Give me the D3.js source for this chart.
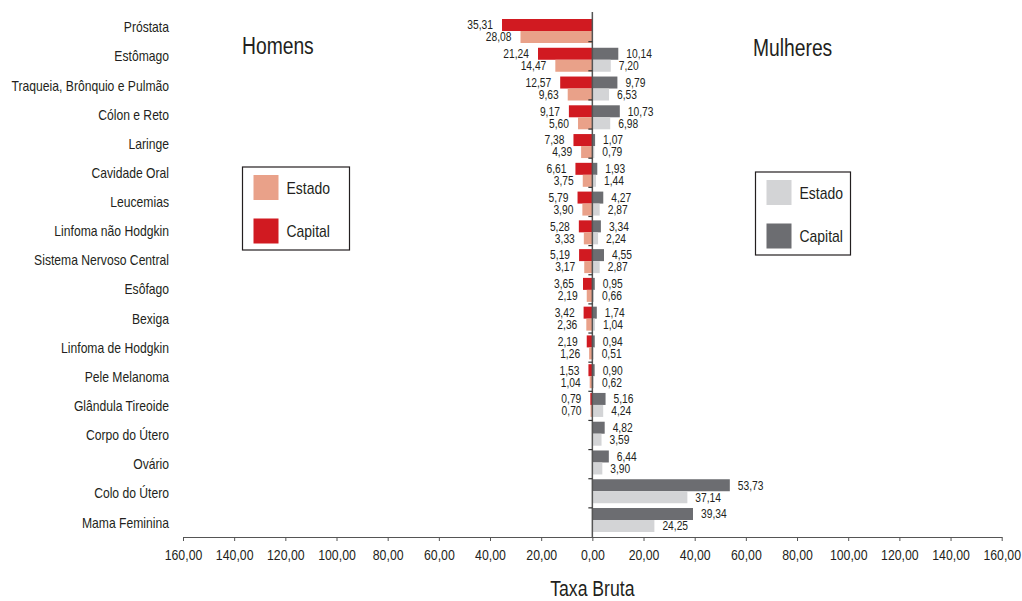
<!DOCTYPE html>
<html>
<head>
<meta charset="utf-8">
<script src="https://cdn.jsdelivr.net/npm/d3@7"></script>
<style>
  body { margin: 0; background: #fff; }
  text { font-family: "Liberation Sans", Arial, sans-serif; fill: #231f20; }
</style>
</head>
<body>
<svg id="chart" width="1022" height="601"></svg>
<script>
const categories = [
  'Próstata', 'Estômago', 'Traqueia, Brônquio e Pulmão', 'Cólon e Reto', 'Laringe',
  'Cavidade Oral', 'Leucemias', 'Linfoma não Hodgkin', 'Sistema Nervoso Central',
  'Esôfago', 'Bexiga', 'Linfoma de Hodgkin', 'Pele Melanoma', 'Glândula Tireoide',
  'Corpo do Útero', 'Ovário', 'Colo do Útero', 'Mama Feminina'
]
const homensCapital = [35.31, 21.24, 12.57, 9.17, 7.38, 6.61, 5.79, 5.28, 5.19, 3.65, 3.42, 2.19, 1.53, 0.79, null, null, null, null]
const homensEstado = [28.08, 14.47, 9.63, 5.60, 4.39, 3.75, 3.90, 3.33, 3.17, 2.19, 2.36, 1.26, 1.04, 0.70, null, null, null, null]
const mulheresCapital = [null, 10.14, 9.79, 10.73, 1.07, 1.93, 4.27, 3.34, 4.55, 0.95, 1.74, 0.94, 0.90, 5.16, 4.82, 6.44, 53.73, 39.34]
const mulheresEstado = [null, 7.20, 6.53, 6.98, 0.79, 1.44, 2.87, 2.24, 2.87, 0.66, 1.04, 0.51, 0.62, 4.24, 3.59, 3.90, 37.14, 24.25]
const xTicks = [-160, -140, -120, -100, -80, -60, -40, -20, 0, 20, 40, 60, 80, 100, 120, 140, 160]

const colors = {
  homensEstado: '#e9a189',
  homensCapital: '#d11a21',
  mulheresEstado: '#d3d4d6',
  mulheresCapital: '#6c6d71'
}

const ptBR = d3.formatLocale({ decimal: ',', thousands: '.', grouping: [3], currency: ['R$', ''] })
const fmt = ptBR.format('.2f')

const svg = d3.select('#chart')

const x = d3.scaleLinear().domain([-160, 160]).range([183, 1001.7])

// rows for labels / ticks
const y = d3.scaleBand().domain(categories).range([12.5, 537])
// bar groups sit a little tighter than the rows
const yBar = d3.scaleBand().domain(categories).range([19, 532]).paddingInner(0.166)
const barH = yBar.bandwidth() / 2

const rows = categories.map((c, i) => ({
  cat: c,
  hc: homensCapital[i],
  he: homensEstado[i],
  mc: mulheresCapital[i],
  me: mulheresEstado[i]
}))

// bars
const series = [
  { key: 'hc', color: colors.homensCapital, side: -1, slot: 0 },
  { key: 'he', color: colors.homensEstado, side: -1, slot: 1 },
  { key: 'mc', color: colors.mulheresCapital, side: 1, slot: 0 },
  { key: 'me', color: colors.mulheresEstado, side: 1, slot: 1 }
]

series.forEach(s => {
  const data = rows.filter(d => d[s.key] != null)

  svg.append('g')
    .selectAll('rect')
    .data(data)
    .join('rect')
    .attr('x', d => s.side < 0 ? x(-d[s.key]) : x(0))
    .attr('y', d => yBar(d.cat) + s.slot * barH)
    .attr('width', d => Math.abs(x(d[s.key]) - x(0)))
    .attr('height', barH)
    .style('fill', s.color)

  svg.append('g')
    .selectAll('text')
    .data(data)
    .join('text')
    .attr('x', d => s.side < 0 ? x(-d[s.key]) - 9 : x(d[s.key]) + 8)
    .attr('y', d => yBar(d.cat) + s.slot * barH + barH / 2)
    .attr('dy', '0.35em')
    .attr('text-anchor', s.side < 0 ? 'end' : 'start')
    .style('font-size', '12.5px')
    .text(d => fmt(d[s.key]))
})

// vertical axis at zero
const yAxis = svg.append('g')
yAxis.append('line')
  .attr('x1', x(0)).attr('x2', x(0))
  .attr('y1', 12).attr('y2', 537)
  .style('stroke', '#555').style('stroke-width', 1.5)
yAxis.selectAll('line.tick')
  .data(categories.slice(1))
  .join('line')
  .attr('class', 'tick')
  .attr('x1', x(0) - 4).attr('x2', x(0))
  .attr('y1', d => y(d)).attr('y2', d => y(d))
  .style('stroke', '#333').style('stroke-width', 1.2)

// category labels
svg.append('g')
  .selectAll('text')
  .data(categories)
  .join('text')
  .attr('x', 169)
  .attr('y', d => y(d) + y.bandwidth() / 2)
  .attr('dy', '0.35em')
  .attr('text-anchor', 'end')
  .style('font-size', '14.8px')
  .text(d => d)

// x axis
const xAxis = svg.append('g')
  .attr('transform', 'translate(0,537)')
  .call(d3.axisBottom(x).tickValues(xTicks).tickSize(4).tickSizeOuter(0).tickFormat(d => fmt(Math.abs(d))))
xAxis.select('.domain').style('stroke', '#555').style('stroke-width', 1.2)
xAxis.selectAll('.tick line').style('stroke', '#555')
xAxis.selectAll('.tick text')
  .attr('y', 12)
  .attr('font-family', null)
  .attr('font-size', null)
  .style('font-size', '15px')
  .style('fill', '#231f20')

svg.append('text')
  .attr('x', x(0))
  .attr('y', 596)
  .attr('text-anchor', 'middle')
  .style('font-size', '21.5px')
  .text('Taxa Bruta')

// titles
svg.append('text').attr('x', 242).attr('y', 54).style('font-size', '23.5px').text('Homens')
svg.append('text').attr('x', 753).attr('y', 56).style('font-size', '23.5px').text('Mulheres')

// legends
function legend (x0, y0, w, h, items) {
  const g = svg.append('g').attr('transform', 'translate(' + x0 + ',' + y0 + ')')
  g.append('rect')
    .attr('width', w).attr('height', h)
    .style('fill', '#fff').style('stroke', '#231f20').style('stroke-width', 1.2)
  const row = g.selectAll('g.item')
    .data(items)
    .join('g')
    .attr('transform', (d, i) => 'translate(11,' + (8 + i * 43.5) + ')')
  row.append('rect')
    .attr('width', 25).attr('height', 25)
    .style('fill', d => d.color)
  row.append('text')
    .attr('x', 33).attr('y', 13)
    .attr('dy', '0.35em')
    .style('font-size', '17px')
    .text(d => d.label)
}

legend(242.5, 167, 107, 83, [
  { label: 'Estado', color: colors.homensEstado },
  { label: 'Capital', color: colors.homensCapital }
])
legend(755.5, 172, 95, 83, [
  { label: 'Estado', color: colors.mulheresEstado },
  { label: 'Capital', color: colors.mulheresCapital }
])

// no narrow font available: squeeze every label to a condensed width
svg.selectAll('text').each(function () {
  const len = this.getComputedTextLength()
  d3.select(this)
    .attr('textLength', len * 0.82)
    .attr('lengthAdjust', 'spacingAndGlyphs')
})
</script>
</body>
</html>
